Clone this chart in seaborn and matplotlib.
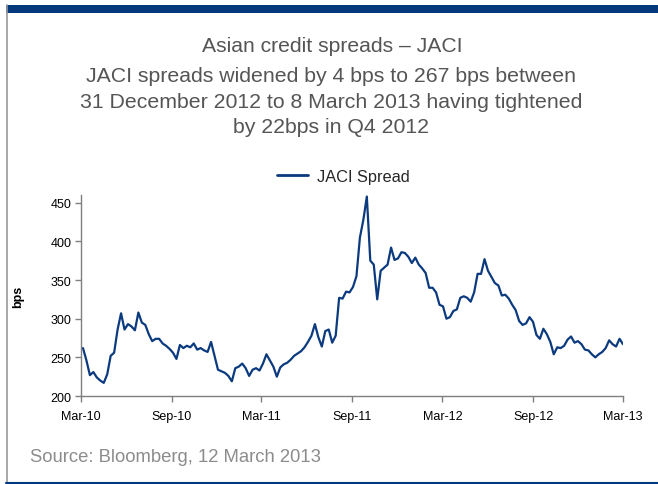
import pandas as pd
import matplotlib
matplotlib.use("Agg")
import matplotlib.pyplot as plt
import seaborn as sns

# Weekly JACI spread readings (bps), Friday observations
start_date = "2010-03-12"
end_date = "2013-03-08"
jaci_spread = [
    262, 246, 227, 231, 224, 220, 217, 228, 252, 256,
    286, 307, 286, 293, 290, 285, 308, 295, 292, 280,
    271, 274, 274, 268, 265, 261, 256, 248, 266, 262,
    265, 263, 268, 260, 262, 259, 257, 270, 252, 234,
    232, 230, 226, 219, 236, 238, 242, 236, 226, 234,
    236, 233, 242, 254, 246, 238, 225, 237, 241, 243,
    247, 252, 255, 258, 263, 270, 278, 293, 276, 264,
    284, 286, 269, 278, 327, 326, 335, 334, 341, 355,
    405, 428, 458, 375, 370, 325, 362, 366, 370, 392,
    376, 378, 386, 385, 380, 372, 379, 370, 365, 359,
    340, 340, 334, 318, 316, 300, 302, 310, 312, 327,
    329, 327, 322, 334, 358, 358, 377, 362, 354, 346,
    343, 330, 331, 326, 318, 311, 297, 292, 294, 302,
    296, 279, 274, 287, 280, 270, 254, 263, 262, 265,
    273, 277, 269, 271, 267, 260, 259, 254, 250, 254,
    257, 262, 272, 267, 264, 274, 267,
]

# Axis ticks every six months
tick_dates = ["2010-03-08", "2010-09-08", "2011-03-08", "2011-09-08",
              "2012-03-08", "2012-09-08", "2013-03-08"]
tick_labels = ["Mar-10", "Sep-10", "Mar-11", "Sep-11", "Mar-12", "Sep-12", "Mar-13"]
y_ticks = [200, 250, 300, 350, 400, 450]

dates = pd.date_range(start_date, end_date, freq="W-FRI")
df = pd.DataFrame({"date": dates, "JACI Spread": jaci_spread})

sns.set_theme(style="white")
plt.rcParams["font.family"] = ["Liberation Sans", "DejaVu Sans"]

NAVY = "#0b3a7e"
BAND = "#003a7d"
AXIS_GREY = "#7f7f7f"

fig = plt.figure(figsize=(6.58, 4.85), dpi=100)
ax = fig.add_axes([0.1231, 0.1814, 0.9468 - 0.1231, 0.5959 - 0.1814])

sns.lineplot(data=df, x="date", y="JACI Spread", ax=ax, color=NAVY,
             linewidth=1.6, legend=False)

ax.set_xlim(pd.Timestamp(tick_dates[0]), pd.Timestamp(tick_dates[-1]))
ax.set_ylim(200, 460)
ax.set_xticks(pd.to_datetime(tick_dates))
ax.set_xticklabels(tick_labels)
ax.set_yticks(y_ticks)
ax.set_yticklabels([str(v) for v in y_ticks])
ax.set_xlabel("")
ax.set_ylabel("bps", fontsize=9, fontweight="bold", color="#000000", labelpad=19)

for side in ("top", "right"):
    ax.spines[side].set_visible(False)
for side in ("left", "bottom"):
    ax.spines[side].set_color(AXIS_GREY)
    ax.spines[side].set_linewidth(1.0)
ax.tick_params(axis="both", which="major", direction="out", length=4, width=1,
               color=AXIS_GREY, labelsize=9, labelcolor="#000000", pad=3,
               left=True, bottom=True)
ax.tick_params(axis="x", pad=6)

fig.legend([plt.Line2D([], [], color=NAVY, linewidth=2.0)], ["JACI Spread"],
           loc="center", bbox_to_anchor=(0.522, 0.635), frameon=False,
           fontsize=11.8, handlelength=1.85, handletextpad=0.55)

# Titles
TEXT_GREY = "#555555"
fig.text(0.505, 1 - 47 / 485, "Asian credit spreads \u2013 JACI", ha="center", va="center",
         fontsize=15.2, color=TEXT_GREY)
subtitle = ["JACI spreads widened by 4 bps to 267 bps between",
            "31 December 2012 to 8 March 2013 having tightened",
            "by 22bps in Q4 2012"]
for line, ypx in zip(subtitle, [77, 103, 128]):
    fig.text(0.503, 1 - ypx / 485, line, ha="center", va="center",
             fontsize=15.3, color=TEXT_GREY)

fig.text(30 / 658, 1 - 458 / 485, "Source: Bloomberg, 12 March 2013", ha="left", va="center",
         fontsize=13.3, color="#8c8c8c")

# Page frame: top band, left rule, bottom rule
fig.add_artist(plt.Rectangle((6 / 658, 1 - 13.5 / 485), 1, 7.5 / 485,
                             transform=fig.transFigure, color=BAND, lw=0))
fig.add_artist(plt.Line2D([6.5 / 658, 6.5 / 658], [1 - 6 / 485, 1 - 483.5 / 485],
                          transform=fig.transFigure, color="#9a9a9a", lw=1.2))
fig.add_artist(plt.Line2D([6 / 658, 1], [1 - 483.5 / 485, 1 - 483.5 / 485],
                          transform=fig.transFigure, color=BAND, lw=1.5))

fig.savefig("out.png", dpi=100, facecolor="white")
